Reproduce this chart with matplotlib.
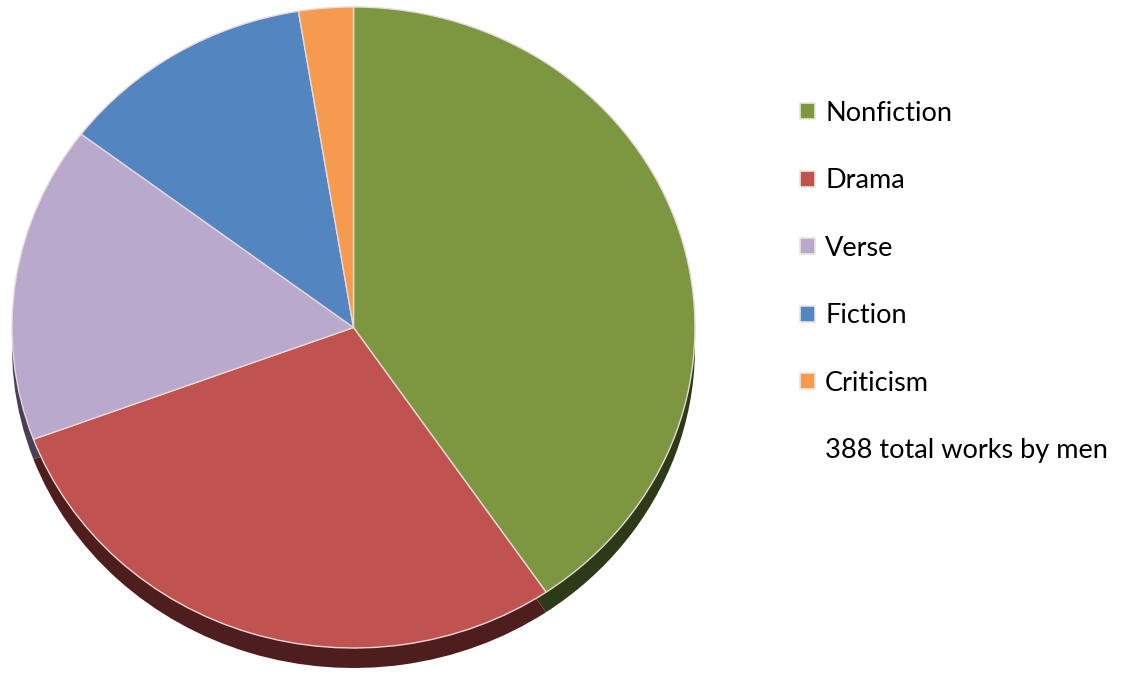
import matplotlib.pyplot as plt
from matplotlib.patches import Rectangle

# works by men, split by genre
genres = ["Nonfiction", "Drama", "Verse", "Fiction", "Criticism"]
counts = [157, 112, 62, 47, 10]
total_label = "388 total works by men"

face_colors = ["#7D9640", "#C0524F", "#B9A9CC", "#5385C0", "#F59A4E"]
side_colors = ["#2C3A17", "#4E1E1E", "#4A3F55", "#22385A", "#6A3A12"]

plt.rcParams["font.family"] = ["Lato", "DejaVu Sans"]

fig = plt.figure(figsize=(11.22, 6.75), dpi=100)
W, H = 1122, 675
# axes box = the elliptical top face of the pie
ax = fig.add_axes([12 / W, (H - 648) / H, 683 / W, 641 / H])

depth = 20 / 320.5

# side of the disc: same pie pushed down, dark shades
ax.pie(counts, colors=side_colors, startangle=90, counterclock=False,
       center=(0, -depth), radius=1,
       wedgeprops={"linewidth": 0, "clip_on": False})

wedges, _ = ax.pie(counts, colors=face_colors, startangle=90, counterclock=False,
                   radius=1,
                   wedgeprops={"linewidth": 1.0, "edgecolor": "#E8D8D8",
                               "clip_on": False})

ax.set_aspect("auto")
ax.set_xlim(-1, 1)
ax.set_ylim(-1, 1)
ax.axis("off")

handles = list(wedges) + [Rectangle((0, 0), 1, 1, visible=False)]
labels = genres + [total_label]
leg = fig.legend(handles, labels, loc="upper left",
                 bbox_to_anchor=(789 / W, 1 - 90 / H),
                 frameon=False, fontsize=19.5,
                 handlelength=0.55, handleheight=0.55, handletextpad=0.38,
                 labelspacing=1.57, borderaxespad=0)
for h in leg.legend_handles[:-1]:
    h.set_edgecolor("#ECE6DC")
    h.set_linewidth(1.2)

fig.savefig("out.png", dpi=100)
